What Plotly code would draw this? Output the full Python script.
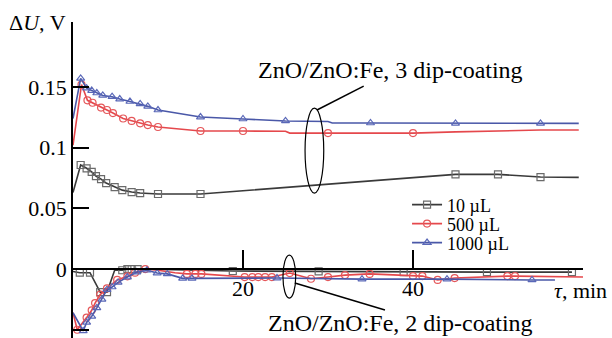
import plotly.graph_objects as go

# ---------------- data (3 dip-coating, upper curves) ----------------
t_top_10 = [0, 0.9, 1.6, 2.2, 2.7, 3.3, 3.9, 4.9, 5.8, 6.9, 7.9, 10, 15, 20, 25, 30, 35, 40, 45, 50, 55, 59.5]
v_top_10 = [0.063, 0.0857, 0.083, 0.080, 0.0766, 0.0741, 0.0708, 0.0675, 0.065, 0.0634, 0.0626, 0.0618,
            0.0618, 0.0645, 0.0672, 0.070, 0.0726, 0.0753, 0.078, 0.078, 0.0758, 0.0755]
m_top_10 = [0, 1, 1, 1, 1, 1, 1, 1, 1, 1, 1, 1, 1, 0, 0, 0, 0, 0, 1, 1, 1, 0]

t_top_500 = [0, 1.0, 1.7, 2.3, 3.3, 4.0, 4.7, 5.9, 6.9, 7.9, 8.8, 10, 15, 20, 25, 25.5, 30, 40, 45, 50, 55, 59.5]
v_top_500 = [0.102, 0.152, 0.139, 0.137, 0.133, 0.131, 0.1285, 0.124, 0.122, 0.120, 0.1186, 0.117,
             0.1137, 0.1137, 0.1135, 0.112, 0.112, 0.112, 0.113, 0.1137, 0.1145, 0.1145]
m_top_500 = [0, 1, 1, 1, 1, 1, 1, 1, 1, 1, 1, 1, 1, 1, 0, 0, 1, 1, 0, 0, 0, 0]

t_top_1000 = [0, 0.9, 1.6, 2.2, 2.8, 3.5, 4.6, 5.5, 6.7, 7.9, 8.8, 10, 15, 20, 25, 30, 30.5, 35, 45, 55, 59.5]
v_top_1000 = [0.124, 0.157, 0.149, 0.147, 0.145, 0.143, 0.142, 0.140, 0.138, 0.136, 0.134, 0.131,
              0.1252, 0.1236, 0.122, 0.1215, 0.1203, 0.1203, 0.120, 0.120, 0.120]
m_top_1000 = [0, 1, 1, 1, 1, 1, 1, 1, 1, 1, 1, 1, 1, 1, 1, 0, 0, 1, 1, 1, 0]

# ---------------- data (2 dip-coating, lower curves) ----------------
t_bot_10 = [0, 0.8, 2.0, 3.2, 4.0, 4.9, 5.8, 6.4, 6.9, 7.6, 18.8, 28.9, 38.9, 48.7, 58.7]
v_bot_10 = [-0.002, -0.003, -0.003, -0.019, -0.019, -0.001, -0.001, 0.0, 0.0, 0.0,
            -0.0016, -0.002, -0.0025, -0.0025, -0.0025]
m_bot_10 = [0, 1, 1, 1, 1, 0, 1, 1, 1, 1, 1, 1, 1, 1, 1]

t_bot_500 = [0, 0.5, 1.6, 2.2, 2.6, 3.2, 4.0, 5.2, 6.4, 7.3, 8.5, 10, 12, 13.4, 14.4, 15.1, 20.2, 21.1,
             21.8, 22.6, 23.4, 25.5, 28, 30, 32, 34.9, 40, 41.1, 42.9, 44.9, 51.1, 52, 60]
v_bot_500 = [-0.036, -0.050, -0.040, -0.034, -0.028, -0.021, -0.016, -0.009, -0.006, -0.003, 0.0, -0.001,
             -0.003, -0.004, -0.004, -0.004, -0.0066, -0.0066, -0.0066, -0.0066, -0.0066, -0.0033,
             -0.008, -0.0066, -0.005, -0.004, -0.0058, -0.0058, -0.009, -0.0074, -0.0058, -0.0058, -0.0066]
m_bot_500 = [0, 1, 1, 1, 1, 1, 1, 1, 1, 1, 1, 0, 0, 1, 1, 1, 1, 1,
             1, 1, 1, 1, 1, 1, 1, 1, 1, 1, 1, 1, 1, 1, 0]

t_bot_1000 = [0, 1.2, 1.6, 2.2, 2.8, 3.4, 4.0, 4.6, 5.3, 6.4, 7.5, 8.7, 9.9, 11.1, 12.9, 14.0,
              24.0, 34.0, 44.0, 54.0, 56.7]
v_bot_1000 = [-0.036, -0.051, -0.044, -0.039, -0.032, -0.025, -0.017, -0.0148, -0.011, -0.0066,
              -0.0025, -0.001, -0.0033, -0.004, -0.0077, -0.0077, -0.0074, -0.0083, -0.0083, -0.009, -0.009]
m_bot_1000 = [0, 1, 1, 1, 1, 1, 1, 1, 1, 1, 1, 1, 1, 1, 1, 1, 1, 1, 1, 1, 0]

series_names = ["10 µL", "500 µL", "1000 µL"]
line_colors = ["#3a3a3a", "#e5484c", "#4a58a8"]
marker_colors = ["#6a6a6a", "#e5575a", "#5a68b8"]
symbols = ["square-open", "circle-open", "triangle-up-open"]

x_ticks = [20, 40]
y_ticks = [-0.05, 0, 0.05, 0.1, 0.15]
y_ticktext = ["\u22120.05", "0", "0.05", "0.1", "0.15"]

FONT = "Liberation Serif, Times New Roman, Times, serif"

fig = go.Figure()

groups = [
    [(t_top_10, v_top_10, m_top_10), (t_top_500, v_top_500, m_top_500), (t_top_1000, v_top_1000, m_top_1000)],
    [(t_bot_10, v_bot_10, m_bot_10), (t_bot_500, v_bot_500, m_bot_500), (t_bot_1000, v_bot_1000, m_bot_1000)],
]

for grp in groups:
    for i, (t, v, m) in enumerate(grp):
        fig.add_trace(go.Scatter(x=t, y=v, mode="lines", line=dict(color=line_colors[i], width=1.6),
                                 showlegend=False, hoverinfo="skip"))
        tm = [a for a, k in zip(t, m) if k]
        vm = [b for b, k in zip(v, m) if k]
        fig.add_trace(go.Scatter(x=tm, y=vm, mode="markers",
                                 marker=dict(symbol=symbols[i], size=7, color=marker_colors[i],
                                             line=dict(width=1.2, color=marker_colors[i])),
                                 showlegend=False, hoverinfo="skip"))

# legend entries (one legend per item for exact spacing)
legend_y = [0.421, 0.361, 0.301]
for i in range(3):
    lname = "legend" if i == 0 else f"legend{i+1}"
    fig.add_trace(go.Scatter(x=[None], y=[None], mode="lines+markers", name=series_names[i],
                             line=dict(color=line_colors[i], width=1.6),
                             marker=dict(symbol=symbols[i], size=7, color=marker_colors[i],
                                         line=dict(width=1.2, color=marker_colors[i])),
                             legend=lname))

leg_common = dict(x=0.655, xanchor="left", yanchor="middle", bgcolor="rgba(0,0,0,0)",
                  font=dict(family=FONT, size=18, color="black"), itemwidth=30)
fig.update_layout(
    legend=dict(y=legend_y[0], **leg_common),
    legend2=dict(y=legend_y[1], **leg_common),
    legend3=dict(y=legend_y[2], **leg_common),
)

y_zero_paper = (338 - 269) / 316.0

fig.update_layout(
    width=612, height=338,
    margin=dict(l=73, r=29, t=22, b=0, pad=0),
    paper_bgcolor="white", plot_bgcolor="white",
    font=dict(family=FONT, size=22, color="black"),
    xaxis=dict(range=[0, 60], anchor="free", position=y_zero_paper, showline=True, linecolor="black",
               linewidth=2, ticks="inside", ticklen=18, tickwidth=1.5, tickcolor="black",
               tickvals=x_ticks, ticktext=[str(v) for v in x_ticks], showgrid=False, zeroline=False,
               tickfont=dict(family=FONT, size=22)),
    yaxis=dict(range=[-0.0568, 0.2035], showline=True, linecolor="black", linewidth=1.5,
               ticks="inside", ticklen=16, tickwidth=1.5, tickcolor="black",
               tickvals=y_ticks, ticktext=y_ticktext, showgrid=False, zeroline=False,
               tickfont=dict(family=FONT, size=22)),
    hovermode=False,
)

# ellipses and leader lines
fig.add_shape(type="circle", xref="x", yref="y", x0=27.3, x1=29.5, y0=0.0626, y1=0.1326,
              line=dict(color="black", width=1.2))
fig.add_shape(type="line", xref="x", yref="y", x0=28.7, y0=0.131, x1=34.2, y1=0.1507,
              line=dict(color="black", width=1.5))
fig.add_shape(type="circle", xref="x", yref="y", x0=24.7, x1=26.2, y0=-0.0239, y1=0.0115,
              line=dict(color="black", width=1.2))
fig.add_shape(type="line", xref="x", yref="y", x0=26.1, y0=-0.0115, x1=36.7, y1=-0.0338,
              line=dict(color="black", width=1.5))

fig.add_annotation(x=37.4, y=0.164, xref="x", yref="y", text="ZnO/ZnO:Fe, 3 dip-coating",
                   showarrow=False, font=dict(family=FONT, size=24))
fig.add_annotation(x=38.5, y=-0.0445, xref="x", yref="y", text="ZnO/ZnO:Fe, 2 dip-coating",
                   showarrow=False, font=dict(family=FONT, size=24))

fig.add_annotation(x=(68 - 73) / 510.0, y=1.0, xref="paper", yref="paper", xanchor="right",
                   yanchor="middle", text="\u0394<i>U</i>, V", showarrow=False,
                   font=dict(family=FONT, size=22))
fig.add_annotation(x=(609 - 73) / 510.0, y=(338 - 290) / 316.0, xref="paper", yref="paper",
                   xanchor="right", yanchor="middle", text="<i>\u03c4</i>, min", showarrow=False,
                   font=dict(family=FONT, size=22))

fig.write_html("out.html")
